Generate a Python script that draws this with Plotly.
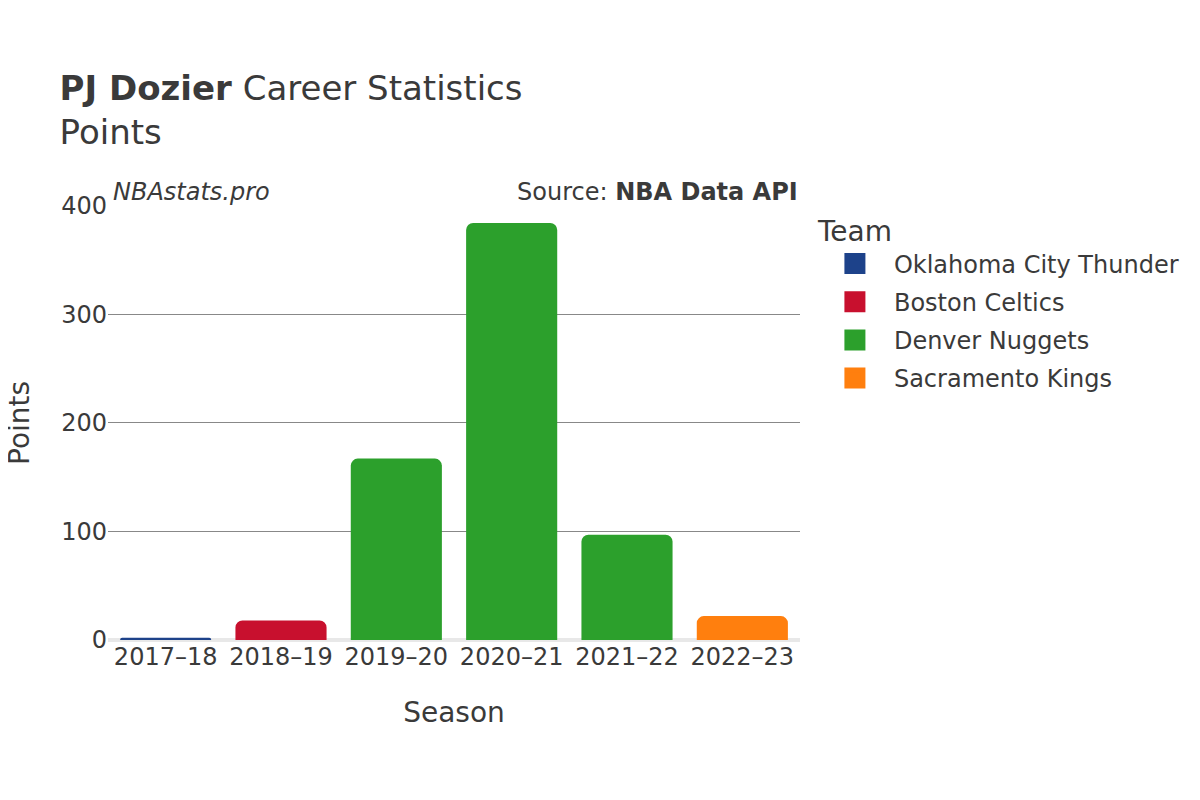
import plotly.graph_objects as go

FONT = "DejaVu Sans"
INK = "#3a3a3a"

seasons = ["2017–18", "2018–19", "2019–20", "2020–21", "2021–22", "2022–23"]
teams = ["Oklahoma City Thunder", "Boston Celtics", "Denver Nuggets", "Denver Nuggets",
         "Denver Nuggets", "Sacramento Kings"]
points = [2, 18, 167, 384, 97, 22]

team_order = ["Oklahoma City Thunder", "Boston Celtics", "Denver Nuggets", "Sacramento Kings"]
team_colors = {
    "Oklahoma City Thunder": "#1d428a",
    "Boston Celtics": "#c8102e",
    "Denver Nuggets": "#2ca02c",
    "Sacramento Kings": "#ff7f0e",
}

fig = go.Figure()
for team in team_order:
    xs = [s for s, t in zip(seasons, teams) if t == team]
    ys = [p for p, t in zip(points, teams) if t == team]
    fig.add_trace(go.Bar(
        x=xs, y=ys, name=team, showlegend=False, legendgroup=team,
        marker=dict(color=team_colors[team], cornerradius=7, line=dict(width=0)),
        hovertemplate="%{x}: %{y}<extra>" + team + "</extra>",
    ))
    # legend-only marker; legend caps marker size at 16, the outline makes it bigger
    fig.add_trace(go.Scatter(
        x=[None], y=[None], mode="markers", name=team, legendgroup=team,
        marker=dict(symbol="square", size=16, color=team_colors[team],
                    line=dict(width=5, color=team_colors[team])),
    ))

fig.update_layout(
    width=1200, height=800,
    barmode="relative", bargap=0.21,
    plot_bgcolor="white", paper_bgcolor="white",
    font=dict(family=FONT, color=INK, size=24),
    title=dict(
        text="<b>PJ Dozier</b> Career Statistics<br>Points",
        x=0.043, xanchor="left", y=0.885, yanchor="top",
        font=dict(size=34, family=FONT, color=INK),
    ),
    margin=dict(l=100, r=408, t=197, b=168),
    legend=dict(
        title=dict(text="Team", font=dict(size=28)),
        font=dict(size=24), x=1.023, y=1.0, yanchor="top",
        itemwidth=68, tracegroupgap=4,
    ),
    annotations=[
        dict(text="<i>NBAstats.pro</i>", x=0, y=1.0, xref="paper", yref="paper",
             xanchor="left", yanchor="bottom", showarrow=False, font=dict(size=24),
             xshift=3, yshift=-3),
        dict(text="Source: <b>NBA Data API</b>", x=1, y=1.0, xref="paper", yref="paper",
             xanchor="right", yanchor="bottom", showarrow=False, font=dict(size=24),
             yshift=-3),
        # y axis title placed by hand so it sits further left than plotly allows
        dict(text="Points", x=-0.128, y=0.5, xref="paper", yref="paper",
             xanchor="center", yanchor="middle", textangle=-90, showarrow=False,
             font=dict(size=28)),
    ],
)
fig.update_xaxes(
    categoryorder="array", categoryarray=seasons,
    title=dict(text="Season", font=dict(size=28), standoff=32), tickfont=dict(size=24),
    showgrid=False,
)
fig.update_yaxes(
    range=[0, 400.5], dtick=100, tickfont=dict(size=24),
    gridcolor="#888888", gridwidth=1,
    zeroline=True, zerolinecolor="#e8e8e8", zerolinewidth=4,
)

fig.write_html("out.html")
